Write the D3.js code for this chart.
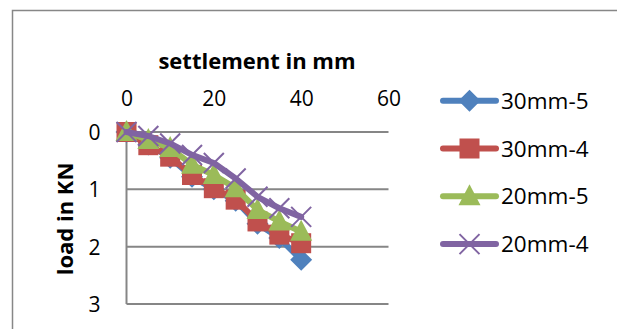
<!DOCTYPE html>
<html><head><meta charset="utf-8">
<script src="https://cdn.jsdelivr.net/npm/d3@7"></script>
<style>body{margin:0;background:#fff}svg{display:block}text{font-family:"Open Sans",sans-serif;fill:#000}</style>
</head><body><svg id="c" width="617" height="329"></svg>
<script>
const settlement = [0,5,10,15,20,25,30,35,40];
const seriesNames = ["30mm-5","30mm-4","20mm-5","20mm-4"];
const s30mm5 = [0,0.22,0.45,0.78,1.0,1.2,1.6,1.85,2.23];
const s30mm4 = [0,0.23,0.43,0.75,0.98,1.18,1.56,1.79,1.94];
const s20mm5 = [0,0.14,0.28,0.57,0.75,0.98,1.36,1.56,1.74];
const s20mm4 = [0,0.07,0.2,0.4,0.54,0.81,1.13,1.33,1.48];
const colors = ["#4F81BD","#C0504D","#9BBB59","#8064A2"];
const xTicks = [0,20,40,60];
const yTicks = [0,1,2,3];
const seriesData = [s30mm5,s30mm4,s20mm5,s20mm4];
const shapes = ["diamond","square","triangle","cross"];

const svg = d3.select("#c");
svg.append("rect").attr("x",12.5).attr("y",10.5).attr("width",700).attr("height",400)
  .attr("fill","#fff").attr("stroke","#878787").attr("stroke-width",1.5);

const x = d3.scaleLinear().domain([0,60]).range([126.5,388.5]);
const y = d3.scaleLinear().domain([0,3]).range([132,304]);

svg.append("g").selectAll("line").data(yTicks).join("line")
  .attr("x1",x(0)).attr("x2",x(60)).attr("y1",d=>y(d)).attr("y2",d=>y(d))
  .attr("stroke","#868686").attr("stroke-width",2);
svg.append("line").attr("x1",x(0)).attr("x2",x(0)).attr("y1",y(0)).attr("y2",y(3))
  .attr("stroke","#868686").attr("stroke-width",2);

const xa = svg.append("g").attr("transform",`translate(0,${y(0)-26})`)
  .call(d3.axisTop(x).tickValues(xTicks).tickSize(0).tickPadding(0).tickFormat(d3.format("d")));
xa.select(".domain").remove();
xa.selectAll("text").attr("font-size",21).attr("font-family","Open Sans").attr("fill","#000").attr("dy","0");
const ya = svg.append("g").attr("transform",`translate(${x(0)-26},0)`)
  .call(d3.axisLeft(y).tickValues(yTicks).tickSize(0).tickPadding(0).tickFormat(d3.format("d")));
ya.select(".domain").remove();
ya.selectAll("text").attr("font-size",21).attr("font-family","Open Sans").attr("fill","#000").attr("dy","0.36em");

svg.append("text").attr("x",257).attr("y",69).attr("text-anchor","middle")
  .attr("font-size",22).attr("font-weight","bold").text("settlement in mm");
svg.append("text").attr("transform","translate(73,219) rotate(-90)").attr("text-anchor","middle")
  .attr("font-size",22).attr("font-weight","bold").text("load in KN");

function marker(g, shape, color, cx, cy){
  if(shape==="diamond"){
    g.append("path").attr("d",`M${cx},${cy-11}L${cx+11},${cy}L${cx},${cy+11}L${cx-11},${cy}Z`).attr("fill",color);
  } else if(shape==="square"){
    g.append("rect").attr("x",cx-10).attr("y",cy-10).attr("width",20).attr("height",20).attr("fill",color);
  } else if(shape==="triangle"){
    g.append("path").attr("d",`M${cx},${cy-12}L${cx+11},${cy+9}L${cx-11},${cy+9}Z`).attr("fill",color);
  } else {
    g.append("path").attr("d",`M${cx-10},${cy-10}L${cx+10},${cy+10}M${cx+10},${cy-10}L${cx-10},${cy+10}`)
      .attr("stroke",color).attr("stroke-width",2);
  }
}

const line = d3.line().x((d,i)=>x(settlement[i])).y(d=>y(d));
seriesData.forEach((vals,k)=>{
  const g = svg.append("g");
  g.append("path").attr("d",line(vals)).attr("fill","none").attr("stroke",colors[k])
    .attr("stroke-width",6).attr("stroke-linejoin","round").attr("stroke-linecap","round");
  vals.forEach((v,i)=>marker(g,shapes[k],colors[k],x(settlement[i]),y(v)));
});

seriesNames.forEach((n,k)=>{
  const ly = 100.7 + k*47.8;
  const g = svg.append("g");
  g.append("line").attr("x1",443).attr("x2",496).attr("y1",ly).attr("y2",ly)
    .attr("stroke",colors[k]).attr("stroke-width",6).attr("stroke-linecap","round");
  marker(g,shapes[k],colors[k],469.5,ly);
  g.append("text").attr("x",501).attr("y",ly).attr("dy","0.36em").attr("font-size",22.5).text(n);
});
</script></body></html>
